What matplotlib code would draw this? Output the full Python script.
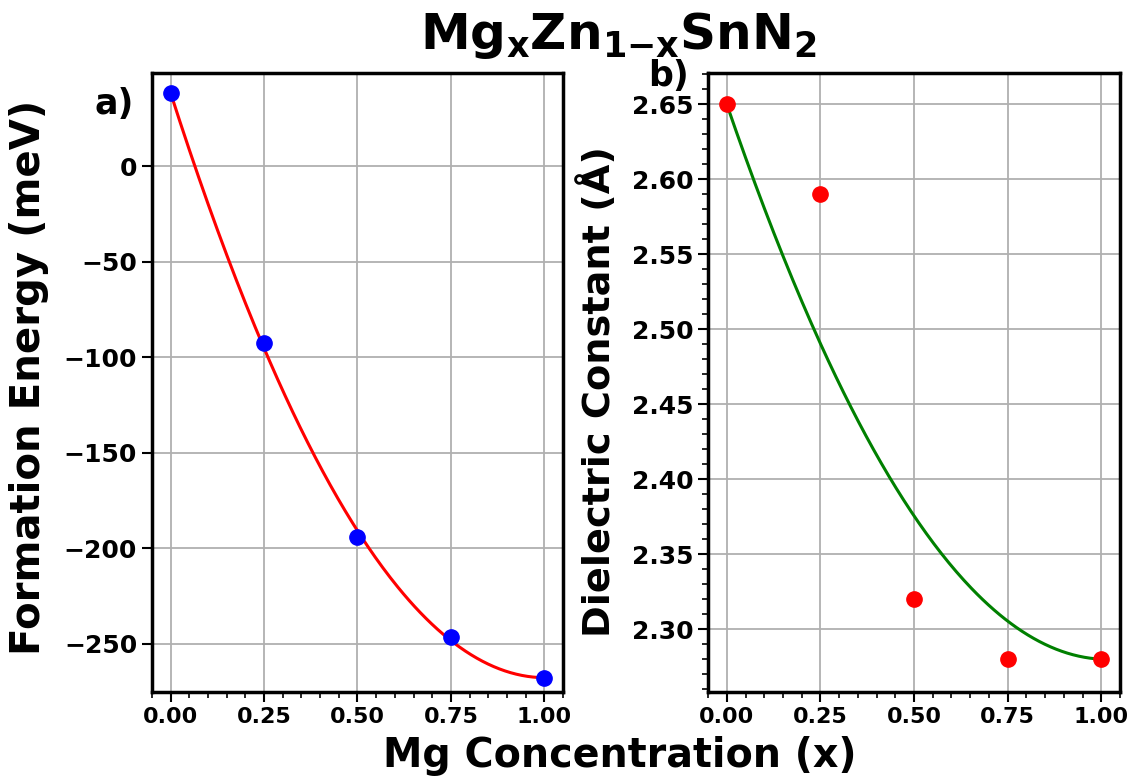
import numpy as np
import matplotlib
matplotlib.use('Agg')
import matplotlib.pyplot as plt
from matplotlib.ticker import MultipleLocator

# Data
mg_conc = np.array([0.0, 0.25, 0.5, 0.75, 1.0])
formation_energy = np.array([38.7, -92.4, -194.2, -246.8, -267.9])  # meV
dielectric = np.array([2.65, 2.59, 2.32, 2.28, 2.28])

plt.rcParams['font.weight'] = 'bold'
plt.rcParams['axes.labelweight'] = 'bold'


def bowing_fit(x, y):
    # y(x) = (1-x)*yA + x*yB - b*x*(1-x), b by least squares
    lin = (1 - x) * y[0] + x * y[-1]
    g = x * (1 - x)
    b = np.sum(g * (lin - y)) / np.sum(g * g)
    xx = np.linspace(0, 1, 200)
    yy = (1 - xx) * y[0] + xx * y[-1] - b * xx * (1 - xx)
    return xx, yy


fig = plt.figure(figsize=(11.33, 7.76), dpi=100)
ax1 = fig.add_axes([0.134, 0.108, 0.363, 0.798])
ax2 = fig.add_axes([0.625, 0.108, 0.3635, 0.798])

# a) formation energy
xf, yf = bowing_fit(mg_conc, formation_energy)
ax1.plot(xf, yf, color='red', lw=2.2, zorder=2)
ax1.plot(mg_conc, formation_energy, 'o', color='blue', ms=11, zorder=3)
ax1.set_ylabel('Formation Energy (meV)', fontsize=29, fontweight='bold')
ax1.yaxis.set_label_coords(-0.249, 0.508)
ax1.set_ylim(-275.5, 49)
ax1.text(-0.092, 0.95, 'a)', transform=ax1.transAxes, fontsize=25,
         fontweight='bold', ha='center', va='center')

# b) dielectric constant
xd, yd = bowing_fit(mg_conc, dielectric)
ax2.plot(xd, yd, color='green', lw=2.2, zorder=2)
ax2.plot(mg_conc, dielectric, 'o', color='red', ms=11, zorder=3)
ax2.set_ylabel('Dielectric Constant (Å)', fontsize=27.5, fontweight='bold')
ax2.yaxis.set_label_coords(-0.219, 0.485)
ax2.set_ylim(2.258, 2.671)
ax2.yaxis.set_minor_locator(MultipleLocator(0.01))
ax2.text(-0.095, 0.995, 'b)', transform=ax2.transAxes, fontsize=25,
         fontweight='bold', ha='center', va='center')

for ax in (ax1, ax2):
    ax.set_xlim(-0.05, 1.05)
    ax.set_xticks([0.0, 0.25, 0.5, 0.75, 1.0])
    ax.xaxis.set_minor_locator(MultipleLocator(0.05))
    ax.grid(True, which='major', color='#b0b0b0', lw=1.3)
    ax.set_axisbelow(True)
    ax.tick_params(which='major', length=7, width=1.5, labelsize=16)
    ax.tick_params(axis='y', which='major', labelsize=18)
    ax.tick_params(which='minor', length=4, width=1.2)
    for lbl in ax.get_xticklabels() + ax.get_yticklabels():
        lbl.set_fontweight('bold')
    for sp in ax.spines.values():
        sp.set_linewidth(2.5)

fig.suptitle(r'$\mathbf{Mg_{x}Zn_{1{-}x}SnN_{2}}$', fontsize=36, x=0.546, y=0.987, va='top')
fig.supxlabel('Mg Concentration (x)', fontsize=28.5, fontweight='bold',
              x=0.547, y=0.0, va='bottom')

fig.savefig('out.png', dpi=100)
